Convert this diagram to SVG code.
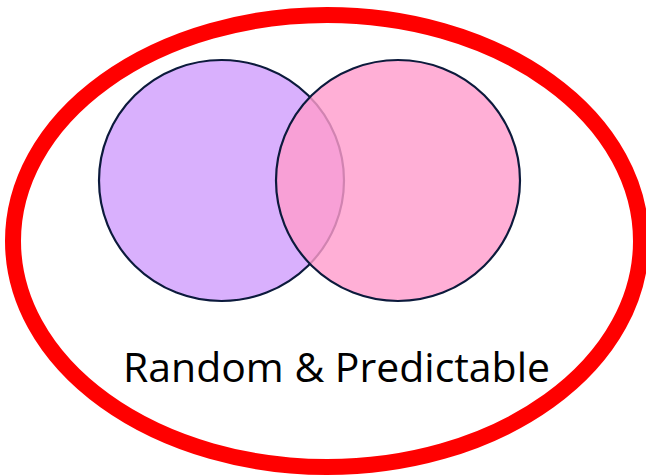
<svg xmlns="http://www.w3.org/2000/svg" width="646" height="476" viewBox="0 0 646 476">
<style>
.set{stroke:#0c1a3c;stroke-width:2.2}
.label{font-family:"Open Sans","Liberation Sans",sans-serif;font-size:40px;fill:#000}
</style>
<rect width="646" height="476" fill="#fff"/>
<g id="universe">
<ellipse cx="327" cy="241" rx="314" ry="226" fill="none" stroke="#ff0000" stroke-width="16"/>
</g>
<g id="setA">
<ellipse class="set" cx="221.5" cy="180.5" rx="122.5" ry="120.5" fill="#d9b0fd"/>
</g>
<g id="setB">
<ellipse class="set" cx="398" cy="180.5" rx="122" ry="120.5" fill="#ff9ccc" fill-opacity="0.81"/>
</g>
<g id="label">
<text class="label" x="123" y="382" textLength="427" lengthAdjust="spacingAndGlyphs">Random &amp; Predictable</text>
</g>
<g id="connectors"/>
</svg>
